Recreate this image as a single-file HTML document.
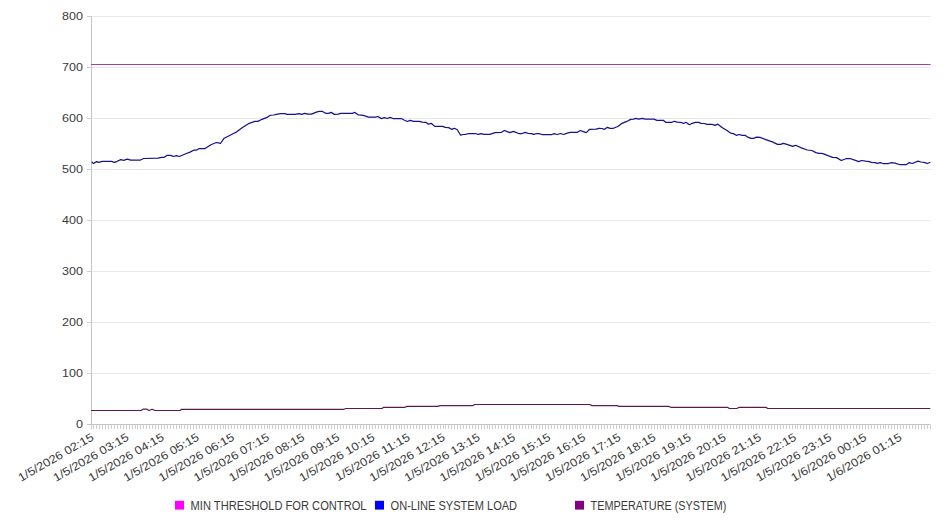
<!DOCTYPE html><html><head><meta charset="utf-8"><style>html,body{margin:0;padding:0;background:#fff;width:946px;height:526px;overflow:hidden}svg{display:block}text{font-family:"Liberation Sans",sans-serif;fill:#3a3a3a;font-size:11px}</style></head><body>
<svg width="946" height="526" viewBox="0 0 946 526">
<path d="M91 16.5H930.6M91 67.5H930.6M91 118.5H930.6M91 169.5H930.6M91 220.5H930.6M91 271.5H930.6M91 322.5H930.6M91 373.5H930.6" stroke="#e8e8e8" stroke-width="1" fill="none"/>
<path d="M87 16.5H91M87 67.5H91M87 118.5H91M87 169.5H91M87 220.5H91M87 271.5H91M87 322.5H91M87 373.5H91M87 424.5H91" stroke="#cfcfcf" stroke-width="1" fill="none"/>
<path d="M91.5 425V429M93.5 425V429M96.5 425V429M99.5 425V429M102.5 425V429M105.5 425V429M108.5 425V429M111.5 425V429M114.5 425V429M117.5 425V429M120.5 425V429M123.5 425V429M126.5 425V429M129.5 425V429M132.5 425V429M135.5 425V429M137.5 425V429M140.5 425V429M143.5 425V429M146.5 425V429M149.5 425V429M152.5 425V429M155.5 425V429M158.5 425V429M161.5 425V429M164.5 425V429M167.5 425V429M170.5 425V429M173.5 425V429M176.5 425V429M179.5 425V429M181.5 425V429M184.5 425V429M187.5 425V429M190.5 425V429M193.5 425V429M196.5 425V429M199.5 425V429M202.5 425V429M205.5 425V429M208.5 425V429M211.5 425V429M214.5 425V429M217.5 425V429M220.5 425V429M223.5 425V429M225.5 425V429M228.5 425V429M231.5 425V429M234.5 425V429M237.5 425V429M240.5 425V429M243.5 425V429M246.5 425V429M249.5 425V429M252.5 425V429M255.5 425V429M258.5 425V429M261.5 425V429M264.5 425V429M267.5 425V429M269.5 425V429M272.5 425V429M275.5 425V429M278.5 425V429M281.5 425V429M284.5 425V429M287.5 425V429M290.5 425V429M293.5 425V429M296.5 425V429M299.5 425V429M302.5 425V429M305.5 425V429M308.5 425V429M311.5 425V429M313.5 425V429M316.5 425V429M319.5 425V429M322.5 425V429M325.5 425V429M328.5 425V429M331.5 425V429M334.5 425V429M337.5 425V429M340.5 425V429M343.5 425V429M346.5 425V429M349.5 425V429M352.5 425V429M355.5 425V429M357.5 425V429M360.5 425V429M363.5 425V429M366.5 425V429M369.5 425V429M372.5 425V429M375.5 425V429M378.5 425V429M381.5 425V429M384.5 425V429M387.5 425V429M390.5 425V429M393.5 425V429M396.5 425V429M399.5 425V429M401.5 425V429M404.5 425V429M407.5 425V429M410.5 425V429M413.5 425V429M416.5 425V429M419.5 425V429M422.5 425V429M425.5 425V429M428.5 425V429M431.5 425V429M434.5 425V429M437.5 425V429M440.5 425V429M443.5 425V429M445.5 425V429M448.5 425V429M451.5 425V429M454.5 425V429M457.5 425V429M460.5 425V429M463.5 425V429M466.5 425V429M469.5 425V429M472.5 425V429M475.5 425V429M478.5 425V429M481.5 425V429M484.5 425V429M487.5 425V429M489.5 425V429M492.5 425V429M495.5 425V429M498.5 425V429M501.5 425V429M504.5 425V429M507.5 425V429M510.5 425V429M513.5 425V429M516.5 425V429M519.5 425V429M522.5 425V429M525.5 425V429M528.5 425V429M531.5 425V429M533.5 425V429M536.5 425V429M539.5 425V429M542.5 425V429M545.5 425V429M548.5 425V429M551.5 425V429M554.5 425V429M557.5 425V429M560.5 425V429M563.5 425V429M566.5 425V429M569.5 425V429M572.5 425V429M575.5 425V429M577.5 425V429M580.5 425V429M583.5 425V429M586.5 425V429M589.5 425V429M592.5 425V429M595.5 425V429M598.5 425V429M601.5 425V429M604.5 425V429M607.5 425V429M610.5 425V429M613.5 425V429M616.5 425V429M619.5 425V429M621.5 425V429M624.5 425V429M627.5 425V429M630.5 425V429M633.5 425V429M636.5 425V429M639.5 425V429M642.5 425V429M645.5 425V429M648.5 425V429M651.5 425V429M654.5 425V429M657.5 425V429M660.5 425V429M663.5 425V429M665.5 425V429M668.5 425V429M671.5 425V429M674.5 425V429M677.5 425V429M680.5 425V429M683.5 425V429M686.5 425V429M689.5 425V429M692.5 425V429M695.5 425V429M698.5 425V429M701.5 425V429M704.5 425V429M707.5 425V429M709.5 425V429M712.5 425V429M715.5 425V429M718.5 425V429M721.5 425V429M724.5 425V429M727.5 425V429M730.5 425V429M733.5 425V429M736.5 425V429M739.5 425V429M742.5 425V429M745.5 425V429M748.5 425V429M751.5 425V429M753.5 425V429M756.5 425V429M759.5 425V429M762.5 425V429M765.5 425V429M768.5 425V429M771.5 425V429M774.5 425V429M777.5 425V429M780.5 425V429M783.5 425V429M786.5 425V429M789.5 425V429M792.5 425V429M795.5 425V429M797.5 425V429M800.5 425V429M803.5 425V429M806.5 425V429M809.5 425V429M812.5 425V429M815.5 425V429M818.5 425V429M821.5 425V429M824.5 425V429M827.5 425V429M830.5 425V429M833.5 425V429M836.5 425V429M839.5 425V429M841.5 425V429M844.5 425V429M847.5 425V429M850.5 425V429M853.5 425V429M856.5 425V429M859.5 425V429M862.5 425V429M865.5 425V429M868.5 425V429M871.5 425V429M874.5 425V429M877.5 425V429M880.5 425V429M883.5 425V429M885.5 425V429M888.5 425V429M891.5 425V429M894.5 425V429M897.5 425V429M900.5 425V429M903.5 425V429M906.5 425V429M909.5 425V429M912.5 425V429M915.5 425V429M918.5 425V429M921.5 425V429M924.5 425V429M927.5 425V429M930.5 425V429" stroke="#cfcfcf" stroke-width="1" fill="none"/>
<path d="M91.5 16V424.5M87 424.5H930.6" stroke="#c4c4c4" stroke-width="1" fill="none"/>
<text transform="translate(83 20.0) scale(1.09 1)" text-anchor="end" style="font-size:11.5px">800</text>
<text transform="translate(83 71.0) scale(1.09 1)" text-anchor="end" style="font-size:11.5px">700</text>
<text transform="translate(83 122.0) scale(1.09 1)" text-anchor="end" style="font-size:11.5px">600</text>
<text transform="translate(83 173.0) scale(1.09 1)" text-anchor="end" style="font-size:11.5px">500</text>
<text transform="translate(83 224.0) scale(1.09 1)" text-anchor="end" style="font-size:11.5px">400</text>
<text transform="translate(83 275.0) scale(1.09 1)" text-anchor="end" style="font-size:11.5px">300</text>
<text transform="translate(83 326.0) scale(1.09 1)" text-anchor="end" style="font-size:11.5px">200</text>
<text transform="translate(83 377.0) scale(1.09 1)" text-anchor="end" style="font-size:11.5px">100</text>
<text transform="translate(83 428.0) scale(1.09 1)" text-anchor="end" style="font-size:11.5px">0</text>
<text transform="translate(94.6 439.4) rotate(-30) scale(1.11 1)" text-anchor="end" style="font-size:11.5px">1/5/2026 02:15</text>
<text transform="translate(129.7 439.4) rotate(-30) scale(1.11 1)" text-anchor="end" style="font-size:11.5px">1/5/2026 03:15</text>
<text transform="translate(164.9 439.4) rotate(-30) scale(1.11 1)" text-anchor="end" style="font-size:11.5px">1/5/2026 04:15</text>
<text transform="translate(200.0 439.4) rotate(-30) scale(1.11 1)" text-anchor="end" style="font-size:11.5px">1/5/2026 05:15</text>
<text transform="translate(235.1 439.4) rotate(-30) scale(1.11 1)" text-anchor="end" style="font-size:11.5px">1/5/2026 06:15</text>
<text transform="translate(270.2 439.4) rotate(-30) scale(1.11 1)" text-anchor="end" style="font-size:11.5px">1/5/2026 07:15</text>
<text transform="translate(305.4 439.4) rotate(-30) scale(1.11 1)" text-anchor="end" style="font-size:11.5px">1/5/2026 08:15</text>
<text transform="translate(340.5 439.4) rotate(-30) scale(1.11 1)" text-anchor="end" style="font-size:11.5px">1/5/2026 09:15</text>
<text transform="translate(375.6 439.4) rotate(-30) scale(1.11 1)" text-anchor="end" style="font-size:11.5px">1/5/2026 10:15</text>
<text transform="translate(410.8 439.4) rotate(-30) scale(1.11 1)" text-anchor="end" style="font-size:11.5px">1/5/2026 11:15</text>
<text transform="translate(445.9 439.4) rotate(-30) scale(1.11 1)" text-anchor="end" style="font-size:11.5px">1/5/2026 12:15</text>
<text transform="translate(481.0 439.4) rotate(-30) scale(1.11 1)" text-anchor="end" style="font-size:11.5px">1/5/2026 13:15</text>
<text transform="translate(516.2 439.4) rotate(-30) scale(1.11 1)" text-anchor="end" style="font-size:11.5px">1/5/2026 14:15</text>
<text transform="translate(551.3 439.4) rotate(-30) scale(1.11 1)" text-anchor="end" style="font-size:11.5px">1/5/2026 15:15</text>
<text transform="translate(586.4 439.4) rotate(-30) scale(1.11 1)" text-anchor="end" style="font-size:11.5px">1/5/2026 16:15</text>
<text transform="translate(621.6 439.4) rotate(-30) scale(1.11 1)" text-anchor="end" style="font-size:11.5px">1/5/2026 17:15</text>
<text transform="translate(656.7 439.4) rotate(-30) scale(1.11 1)" text-anchor="end" style="font-size:11.5px">1/5/2026 18:15</text>
<text transform="translate(691.8 439.4) rotate(-30) scale(1.11 1)" text-anchor="end" style="font-size:11.5px">1/5/2026 19:15</text>
<text transform="translate(726.9 439.4) rotate(-30) scale(1.11 1)" text-anchor="end" style="font-size:11.5px">1/5/2026 20:15</text>
<text transform="translate(762.1 439.4) rotate(-30) scale(1.11 1)" text-anchor="end" style="font-size:11.5px">1/5/2026 21:15</text>
<text transform="translate(797.2 439.4) rotate(-30) scale(1.11 1)" text-anchor="end" style="font-size:11.5px">1/5/2026 22:15</text>
<text transform="translate(832.3 439.4) rotate(-30) scale(1.11 1)" text-anchor="end" style="font-size:11.5px">1/5/2026 23:15</text>
<text transform="translate(867.5 439.4) rotate(-30) scale(1.11 1)" text-anchor="end" style="font-size:11.5px">1/6/2026 00:15</text>
<text transform="translate(902.6 439.4) rotate(-30) scale(1.11 1)" text-anchor="end" style="font-size:11.5px">1/6/2026 01:15</text>
<path d="M91 64.5H930.6" stroke="#a83ca8" stroke-width="1.2" fill="none"/>
<polyline points="91.0,410.5 141.0,410.5 143.0,409.2 147.0,409.2 149.0,410.5 152.0,409.2 155.0,410.5 180.0,410.5 181.6,409.3 344.0,409.3 346.0,408.5 382.0,408.5 383.7,407.3 405.0,407.3 407.0,406.4 437.6,406.4 440.0,405.6 473.0,405.6 474.8,404.5 589.7,404.5 592.0,405.6 617.0,405.6 619.0,406.4 668.5,406.4 670.8,407.3 727.6,407.3 729.3,408.5 736.9,408.5 739.2,407.3 765.9,407.3 767.7,408.5 930.3,408.5" stroke="#5c1a4c" stroke-width="1.2" fill="none" stroke-linejoin="round"/>
<polyline points="91.5,162.0 92.0,162.1 93.4,163.5 96.6,161.6 98.7,162.3 102.3,161.3 111.5,161.3 114.4,162.3 117.2,161.3 120.8,159.6 123.7,160.3 127.2,159.2 130.8,160.2 140.0,160.2 143.6,158.5 157.9,158.2 161.5,157.3 164.3,157.3 167.2,155.3 170.7,155.3 173.6,156.5 176.4,155.6 179.3,156.5 186.4,153.5 190.0,152.1 193.6,150.2 196.4,150.2 199.3,148.5 205.0,148.5 211.4,144.5 216.4,142.5 218.5,142.8 220.4,143.5 224.2,138.2 229.2,135.7 233.5,133.5 236.4,132.1 242.1,127.8 249.2,123.3 254.9,121.4 257.8,121.4 262.0,119.3 267.0,117.4 269.9,115.4 273.5,115.0 276.3,114.3 280.6,113.6 284.9,113.6 287.0,114.3 294.9,114.3 299.1,113.6 301.7,114.3 304.7,113.3 308.1,114.2 311.6,114.2 316.3,112.2 319.2,111.3 322.1,111.3 325.6,113.3 328.5,113.3 331.2,112.4 334.3,114.4 338.4,114.2 340.7,113.3 352.3,113.3 354.9,112.4 358.1,114.8 363.4,115.3 368.6,117.1 375.6,117.1 377.9,116.5 381.4,118.6 384.3,117.7 387.2,118.5 390.1,117.4 393.0,118.5 401.2,118.5 404.1,120.0 407.3,121.5 410.2,120.3 413.7,121.3 419.5,121.3 421.9,122.1 425.9,122.3 428.3,124.2 431.2,123.3 434.7,126.4 442.8,126.4 445.1,127.3 448.6,127.6 451.5,129.3 454.4,128.3 457.3,129.7 460.6,135.2 463.1,134.5 465.5,134.3 469.0,133.5 474.8,133.5 478.3,134.4 481.2,133.7 484.1,134.4 489.9,134.4 495.1,132.6 501.5,132.3 504.4,130.5 507.3,131.7 509.7,132.6 513.5,131.4 518.7,133.5 522.2,133.5 525.1,132.3 528.6,133.5 531.5,133.7 533.8,134.4 536.7,133.5 539.1,133.7 542.0,134.5 551.9,134.5 554.2,133.7 557.1,134.5 560.6,133.5 563.5,134.5 568.1,132.8 570.5,132.3 577.4,132.3 580.3,130.5 583.3,131.6 586.2,132.6 589.7,129.3 596.0,129.1 599.0,128.3 601.9,128.5 604.2,129.4 607.4,127.3 610.0,128.3 613.5,128.3 616.4,127.0 617.9,126.5 622.0,123.3 624.3,122.4 627.2,121.3 630.7,119.4 633.6,119.2 635.9,118.3 638.8,119.2 642.3,118.3 645.2,119.2 654.0,119.2 656.9,120.3 663.3,120.3 665.6,122.3 672.0,122.3 674.3,121.3 677.2,122.1 680.7,122.3 683.6,123.5 685.9,122.3 689.4,124.7 692.3,123.3 695.2,122.3 698.7,122.4 701.0,123.3 704.5,123.5 706.9,124.4 712.1,124.4 715.0,125.3 717.9,124.2 722.0,127.5 727.0,130.5 730.5,133.1 733.4,133.6 736.3,135.3 739.2,134.5 742.1,135.3 745.0,135.3 747.9,137.2 750.8,138.3 753.7,138.3 756.6,137.2 760.1,137.4 766.5,139.8 772.3,141.9 777.6,144.4 780.5,144.4 783.4,143.3 786.9,144.4 792.7,146.4 795.6,145.3 801.4,147.9 807.2,150.0 811.9,150.5 815.9,152.6 818.8,153.4 821.7,153.4 825.0,154.4 828.5,155.8 832.6,157.3 836.6,157.6 841.3,160.5 846.5,158.5 850.0,158.5 854.7,160.2 858.7,161.6 861.6,160.5 865.7,161.2 869.2,161.6 871.5,162.3 875.0,162.6 877.3,163.4 880.2,162.6 883.1,163.5 888.4,163.5 891.3,162.6 894.8,163.1 899.4,164.5 906.4,164.5 909.3,162.6 912.2,163.5 918.0,161.2 920.9,162.0 925.0,162.6 927.3,163.5 930.3,162.2" stroke="#16128a" stroke-width="1.25" fill="none" stroke-linejoin="round"/>
<rect x="175" y="500.8" width="9" height="8.8" fill="#ff00ff"/>
<text x="190.6" y="509.6" style="font-size:11.9px" textLength="175.9" lengthAdjust="spacingAndGlyphs">MIN THRESHOLD FOR CONTROL</text>
<rect x="375" y="500.8" width="9" height="8.8" fill="#0000ff"/>
<text x="390.6" y="509.6" style="font-size:11.9px" textLength="126.5" lengthAdjust="spacingAndGlyphs">ON-LINE SYSTEM LOAD</text>
<rect x="575" y="500.8" width="9" height="8.8" fill="#800080"/>
<text x="590.6" y="509.6" style="font-size:11.9px" textLength="135.9" lengthAdjust="spacingAndGlyphs">TEMPERATURE (SYSTEM)</text>
</svg></body></html>
